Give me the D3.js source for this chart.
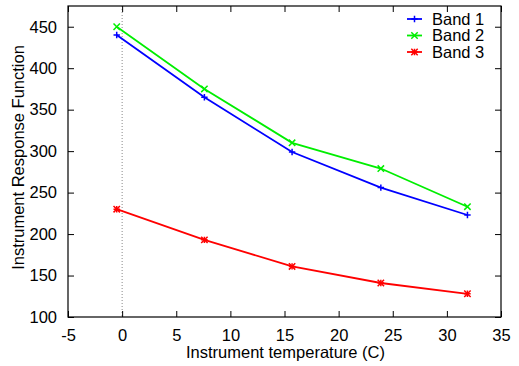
<!DOCTYPE html>
<html>
<head>
<meta charset="utf-8">
<script src="https://cdn.jsdelivr.net/npm/d3@7"></script>
<style>
  body { margin: 0; background: #fff; }
  text { font-family: 'Liberation Sans', Arial, sans-serif; fill: #000; }
</style>
</head>
<body>
<div id="chart"></div>
<script>
// data
const temps = [-0.5, 7.6, 15.7, 23.9, 31.9];
const band1 = [440, 365, 299, 256, 223];
const band2 = [450, 375, 310, 279, 233];
const band3 = [230, 193, 161, 141, 128];
const seriesNames = ['Band 1', 'Band 2', 'Band 3'];
const xTicks = [-5, 0, 5, 10, 15, 20, 25, 30, 35];
const yTicks = [100, 150, 200, 250, 300, 350, 400, 450];

const W = 519, H = 366;
const margin = { top: 6, right: 18, bottom: 49, left: 68 };
const width = W - margin.left - margin.right,
  height = H - margin.top - margin.bottom;
const fontSize = '16.5px';

const svg = d3.select('#chart').append('svg')
  .attr('width', W).attr('height', H);
const g = svg.append('g')
  .attr('transform', `translate(${margin.left},${margin.top})`);

const x = d3.scaleLinear().domain([-5, 35]).range([0, width]);
const y = d3.scaleLinear().domain([100, 475]).range([height, 0]);

// dotted zero line
g.append('line')
  .attr('x1', x(0)).attr('x2', x(0))
  .attr('y1', 0).attr('y2', height)
  .attr('stroke', '#888').attr('stroke-width', 1)
  .attr('stroke-dasharray', '1,2');

// axes with inward ticks, mirrored on top/right
const tick = 6;
const fmt = d => String(d);
g.append('g').attr('transform', `translate(0,${height})`)
  .call(d3.axisBottom(x).tickValues(xTicks).tickFormat(fmt).tickSizeInner(-tick).tickSizeOuter(0).tickPadding(12))
  .call(a => a.select('.domain').remove());
g.append('g')
  .call(d3.axisTop(x).tickValues(xTicks).tickSizeInner(-tick).tickSizeOuter(0).tickFormat(''))
  .call(a => a.select('.domain').remove());
g.append('g')
  .call(d3.axisLeft(y).tickValues(yTicks).tickFormat(fmt).tickSizeInner(-tick).tickSizeOuter(0).tickPadding(11))
  .call(a => a.select('.domain').remove());
g.append('g').attr('transform', `translate(${width},0)`)
  .call(d3.axisRight(y).tickValues(yTicks).tickSizeInner(-tick).tickSizeOuter(0).tickFormat(''))
  .call(a => a.select('.domain').remove());

g.selectAll('.tick text').style('font-size', fontSize).style('font-family', "'Liberation Sans', Arial, sans-serif");
g.selectAll('.tick line').attr('stroke', '#000');

g.append('rect')
  .attr('width', width).attr('height', height)
  .attr('fill', 'none').attr('stroke', '#000').attr('stroke-width', 1.2);

// markers
function marker(sel, type, color) {
  const s = 3.2;
  if (type === 'plus' || type === 'star') {
    sel.append('path').attr('d', `M${-s},0H${s}M0,${-s}V${s}`)
      .attr('stroke', color).attr('stroke-width', 1.5);
  }
  if (type === 'cross' || type === 'star') {
    sel.append('path').attr('d', `M${-s},${-s}L${s},${s}M${-s},${s}L${s},${-s}`)
      .attr('stroke', color).attr('stroke-width', 1.5);
  }
}

const series = [
  { name: seriesNames[0], values: band1, color: '#0000ff', type: 'plus' },
  { name: seriesNames[1], values: band2, color: '#00ee00', type: 'cross' },
  { name: seriesNames[2], values: band3, color: '#ff0000', type: 'star' },
];

const line = d3.line().x((d, i) => x(temps[i])).y(d => y(d));

series.forEach(s => {
  g.append('path').datum(s.values)
    .attr('d', line)
    .attr('fill', 'none').attr('stroke', s.color).attr('stroke-width', 1.8);
  s.values.forEach((v, i) => {
    const m = g.append('g').attr('transform', `translate(${x(temps[i])},${y(v)})`);
    marker(m, s.type, s.color);
  });
});

// legend
const legend = svg.append('g');
series.forEach((s, i) => {
  const ly = 19 + i * 16.5;
  legend.append('line')
    .attr('x1', 407).attr('x2', 422).attr('y1', ly).attr('y2', ly)
    .attr('stroke', s.color).attr('stroke-width', 1.8);
  const m = legend.append('g').attr('transform', `translate(414.5,${ly})`);
  marker(m, s.type, s.color);
  legend.append('text')
    .attr('x', 432).attr('y', ly).attr('dy', '0.35em')
    .style('font-size', fontSize)
    .text(s.name);
});

// axis titles
svg.append('text')
  .attr('x', margin.left + width / 2 + 1).attr('y', 358)
  .attr('text-anchor', 'middle').style('font-size', fontSize)
  .text('Instrument temperature (C)');
svg.append('text')
  .attr('transform', `translate(24,${margin.top + height / 2 - 4}) rotate(-90)`)
  .attr('text-anchor', 'middle').style('font-size', fontSize)
  .text('Instrument Response Function');
</script>
</body>
</html>
